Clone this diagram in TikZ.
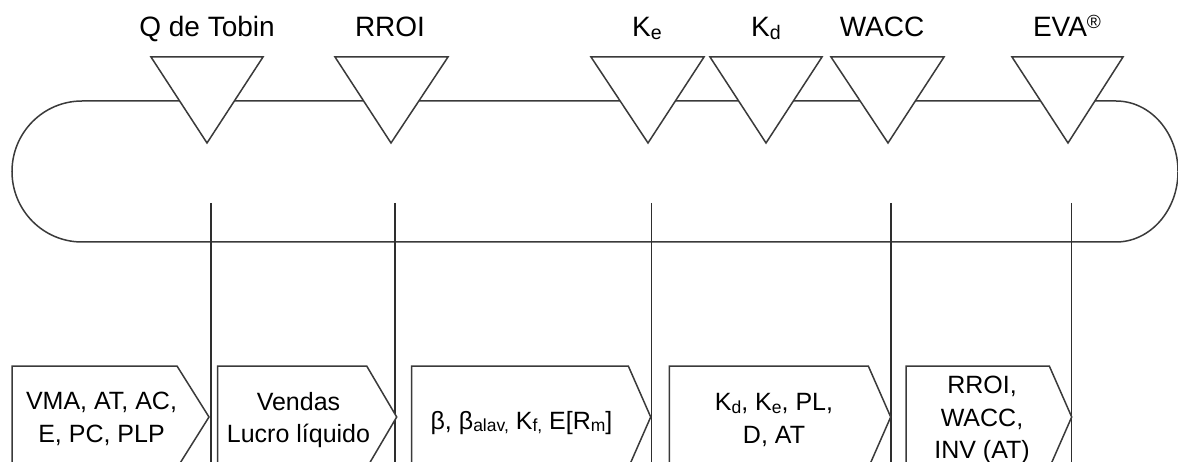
\documentclass[tikz,border=0pt]{standalone}
\usepackage{fontspec}
\usepackage{graphicx}
\setmainfont{Liberation Sans}
\newcommand\sbs[1]{\raisebox{-0.09em}{\scalebox{0.7}{#1}}}
\newcommand\sps[1]{\raisebox{0.3em}{\scalebox{0.68}{#1}}}
\definecolor{ink}{HTML}{3A3A3A}
\begin{document}
\begin{tikzpicture}[x=1pt,y=-1pt,
  ln/.style={draw=ink, line width=1.5pt},
  tri/.style={ln, fill=white, line join=miter},
  chev/.style={ln, fill=white, line join=miter},
  vline/.style={draw=ink!80!black, line width=1.6pt},
  toplab/.style={font=\fontsize{28}{34}\selectfont, anchor=base, inner sep=0pt},
  boxtxt/.style={font=\fontsize{25}{32.5}\selectfont, align=center, inner sep=0pt, anchor=center}]
\useasboundingbox (0,0) rectangle (1178,462);
\clip (0,0) rectangle (1178,462);

% loop (stadium)
\draw[ln] (82,101) -- (1116,101)
  arc[start angle=-90, end angle=90, x radius=62, y radius=70.5]
  -- (82,242)
  arc[start angle=90, end angle=270, x radius=70, y radius=70.5] -- cycle;

% vertical lines
\foreach \n/\x in {q/211, r/395, e/651.5, w/891, v/1071.5}{
  \coordinate (\n top) at (\x,203);
  \coordinate (\n bot) at (\x,470);
  \draw[vline] (\n top) -- (\n bot);
}

% triangles
\foreach \n/\l/\r/\t in {tq/151/263/207, tr/335/448/391, te/591/704/648, td/710/822/766, tw/831/944/888, tv/1012/1123/1068}{
  \draw[tri] (\l,57) coordinate (\n a) -- (\r,57) coordinate (\n b) -- (\t,143) coordinate (\n tip) -- cycle;
}

% top labels
\node[toplab] (lq) at (207,37) {Q de Tobin};
\node[toplab] (lr) at (390,37) {RROI};
\node[toplab] (le) at (647,37) {K\sbs{e}};
\node[toplab] (ld) at (766,37) {K\sbs{d}};
\node[toplab] (lw) at (882,37) {WACC};
\node[toplab] (lv) at (1067,37) {EVA\sps{®}};

% chevron boxes
\foreach \n/\l/\r/\t in {b1/12/177/209, b2/217.7/366.7/396.7, b3/411.7/628.3/650.7, b4/669.3/868.3/890.7, b5/906/1049.3/1071.7}{
  \draw[chev] (\l,366) -- (\r,366) -- (\t,417) coordinate (\n tip) -- (\r,468) -- (\l,468) -- cycle;
}

\node[boxtxt] (t1) at (101.5,419) {VMA, AT, AC,\\E, PC, PLP};
\node[boxtxt] (t2) at (298.5,420) {Vendas\\Lucro líquido};
\node[boxtxt] (t3) at (521.5,423) {β, β\sbs{alav,} K\sbs{f,} E[R\sbs{m}]};
\node[boxtxt] (t4) at (774,420) {K\sbs{d}, K\sbs{e}, PL,\\D, AT};
\node[boxtxt] (t5) at (982,420) {RROI,\\WACC,\\INV (AT)};
\end{tikzpicture}
\end{document}
